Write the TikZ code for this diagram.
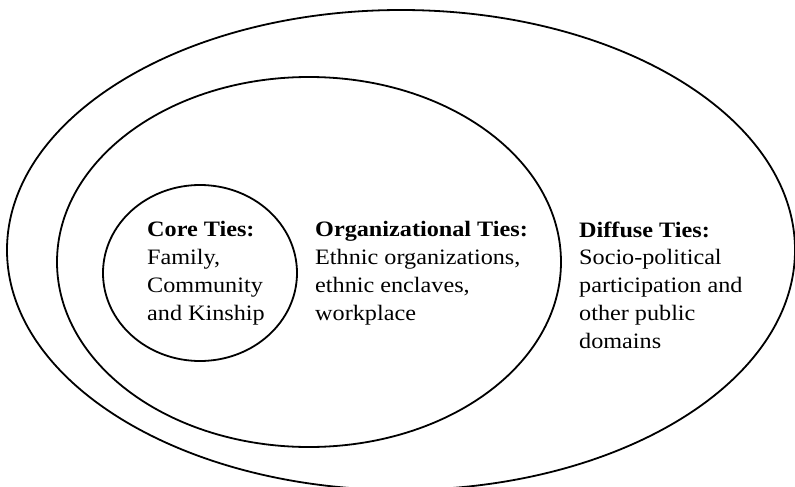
\documentclass[tikz,border=0pt]{standalone}
\usepackage{fontspec}
\setmainfont[FakeStretch=1.1]{Liberation Serif}
\usetikzlibrary{shapes.geometric}
\begin{document}
\begin{tikzpicture}[x=1pt,y=-1pt,
  ring/.style={draw, ellipse, line width=1.8pt, inner sep=0pt},
  tielabel/.style={anchor=base west, align=left, inner sep=0pt, font=\fontsize{22}{27.7}\selectfont}]
\useasboundingbox (0,0) rectangle (795,487);
\node[ring, minimum width=788pt, minimum height=480pt] (outer) at (401,250) {};
\node[ring, minimum width=504pt, minimum height=370pt] (middle) at (309,262) {};
\node[ring, minimum width=194pt, minimum height=176pt] (inner) at (200,273) {};
% base west anchor sits on the last line's baseline
\node[tielabel] (core) at (147,320) {\textbf{Core Ties:}\\Family,\\Community\\and Kinship};
\node[tielabel] (org) at (315,320) {\textbf{Organizational Ties:}\\Ethnic organizations,\\ethnic enclaves,\\workplace};
\node[tielabel] (diffuse) at (579,348) {\textbf{Diffuse Ties:}\\Socio-political\\participation and\\other public\\domains};
\end{tikzpicture}
\end{document}
